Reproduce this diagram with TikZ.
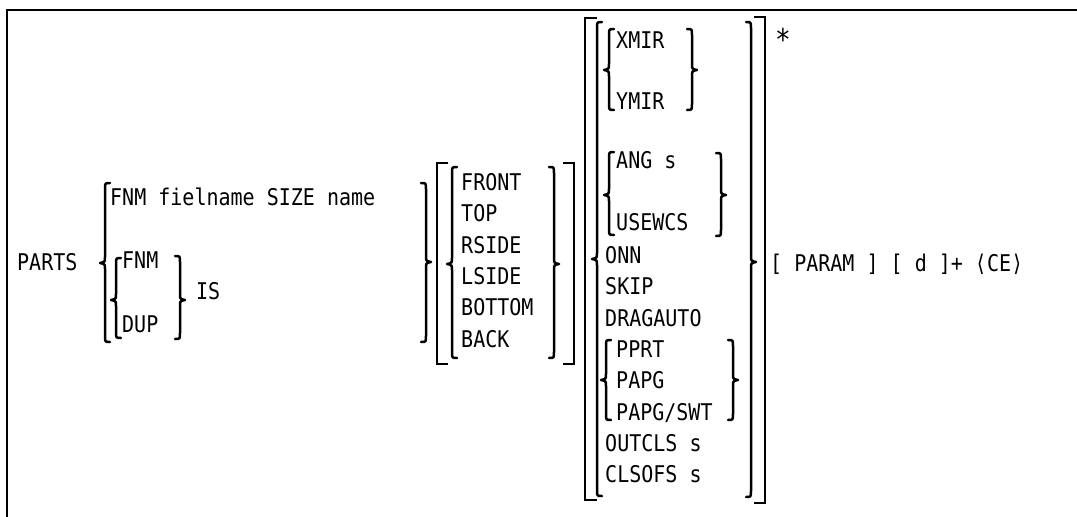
\documentclass[tikz,border=0pt]{standalone}
\usepackage{fontspec}
\newfontfamily\kwfont[FakeStretch=0.87]{DejaVu Sans Mono}

\tikzset{
  kw/.style={inner sep=0pt, anchor=base west, font=\kwfont\fontsize{23}{23}\selectfont},
  brk/.style={line width=2.5pt, line cap=round, line join=round},
  bkt/.style={line width=2.5pt, line cap=butt, line join=miter},
}

% braces: x, top, tip, bottom
\newcommand{\drawlbrace}[4]{%
  \draw[brk] (#1+5,#2) .. controls (#1,#2) .. (#1,#2+6) -- (#1,#3-6)
    .. controls (#1,#3-1) .. (#1-5,#3) .. controls (#1,#3+1) .. (#1,#3+6)
    -- (#1,#4-6) .. controls (#1,#4) .. (#1+5,#4);}
\newcommand{\drawrbrace}[4]{%
  \draw[brk] (#1-5,#2) .. controls (#1,#2) .. (#1,#2+6) -- (#1,#3-6)
    .. controls (#1,#3-1) .. (#1+5,#3) .. controls (#1,#3+1) .. (#1,#3+6)
    -- (#1,#4-6) .. controls (#1,#4) .. (#1-5,#4);}
% brackets: x, top, bottom, tick
\newcommand{\drawbracket}[4]{%
  \draw[bkt] (#1+#4,#2) -- (#1,#2) -- (#1,#3) -- (#1+#4,#3);}

\begin{document}
\begin{tikzpicture}[x=1pt,y=-1pt]
    \useasboundingbox (0,0) rectangle (1077,517);
    % Define dimensions
    \def\pitch{31.3}

    % Frame
    \draw[line width=2pt] (7,517) -- (7,10) -- (1077,10);

    % Command and first group
    \node[kw] (parts) at (17,270) {PARTS};
    \drawlbrace{105}{183}{263}{342}
    \node[kw] (fnmsize) at (110,205) {FNM fielname SIZE name};
    \drawlbrace{116}{258}{300}{338}
    \node[kw] (fnm) at (122,268) {FNM};
    \node[kw] (dup) at (122,332) {DUP};
    \drawrbrace{180}{256}{300}{339}
    \node[kw] (is) at (196,299) {IS};
    \drawrbrace{426}{183}{262}{342}

    % View group
    \drawbracket{437}{163}{364}{11}
    \drawlbrace{452}{167}{264}{358}
    \foreach \vname [count=\i] in {FRONT,TOP,RSIDE,LSIDE,BOTTOM,BACK}
        \node[kw] (view\i) at (461,190.5+\pitch*\i-\pitch) {\vname};
    \drawrbrace{554}{167}{264}{358}
    \drawbracket{574}{163}{364}{-11}

    % Option group
    \drawbracket{585}{18}{500}{12}
    \drawlbrace{597}{22}{259}{496}
    \drawlbrace{609}{29}{70}{110}
    \node[kw] (xmir) at (616,48) {XMIR};
    \node[kw] (ymir) at (616,109.5) {YMIR};
    \drawrbrace{692}{29}{70}{110}
    \drawlbrace{609}{152}{195}{235}
    \node[kw] (ang) at (616,168.5) {ANG s};
    \node[kw] (usewcs) at (616,230.5) {USEWCS};
    \drawrbrace{721}{153}{195}{236}
    \node[kw] (onn) at (605,263.5) {ONN};
    \node[kw] (skip) at (605,294.5) {SKIP};
    \node[kw] (dragauto) at (605,326.5) {DRAGAUTO};
    \drawlbrace{606}{340}{380}{420}
    \foreach \pname [count=\i] in {PPRT,PAPG,PAPG/SWT}
        \node[kw] (pap\i) at (616,357.5+\pitch*\i-\pitch) {\pname};
    \drawrbrace{733}{340}{380}{420}
    \node[kw] (outcls) at (605,451.5) {OUTCLS s};
    \node[kw] (clsofs) at (605,482.5) {CLSOFS s};
    \drawrbrace{751}{22}{262}{497}
    \drawbracket{765}{17}{503}{-11}

    % Repeat mark and tail
    \node[kw, anchor=base, font=\kwfont\fontsize{30}{30}\selectfont] (star) at (783,50) {*};
    \node[kw] (tail) at (770,271) {[ PARAM ] [ d ]+ ⟨CE⟩};
\end{tikzpicture}
\end{document}
